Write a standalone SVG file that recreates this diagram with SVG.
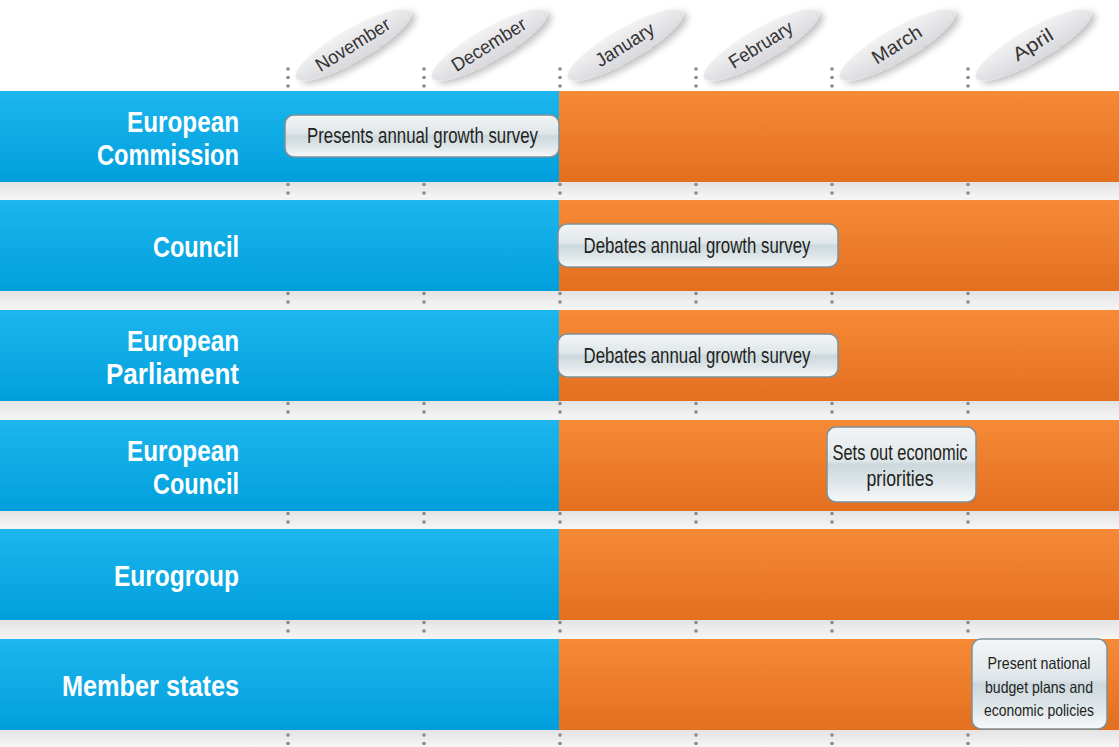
<svg xmlns="http://www.w3.org/2000/svg" width="1119" height="747" viewBox="0 0 1119 747">
<defs>
<linearGradient id="gBlue" x1="0" y1="0" x2="0" y2="1"><stop offset="0" stop-color="#1db6ee"/><stop offset="1" stop-color="#009fdc"/></linearGradient>
<linearGradient id="gOrange" x1="0" y1="0" x2="0" y2="1"><stop offset="0" stop-color="#f68a37"/><stop offset="1" stop-color="#e36f1f"/></linearGradient>
<linearGradient id="gGap" x1="0" y1="0" x2="0" y2="1"><stop offset="0" stop-color="#e3e3e3"/><stop offset="1" stop-color="#f6f6f6"/></linearGradient>
<linearGradient id="gBox" x1="0" y1="0" x2="0" y2="1"><stop offset="0" stop-color="#f3f5f6"/><stop offset="0.45" stop-color="#dfe6e9"/><stop offset="0.5" stop-color="#ccd8dd"/><stop offset="0.8" stop-color="#e3e9ec"/><stop offset="1" stop-color="#f7f9f9"/></linearGradient>
<linearGradient id="gPill" x1="0" y1="0" x2="0" y2="1"><stop offset="0" stop-color="#f2f2f4"/><stop offset="1" stop-color="#d9d9dd"/></linearGradient>
<filter id="shadow" x="-30%" y="-60%" width="160%" height="220%"><feGaussianBlur in="SourceAlpha" stdDeviation="3.5"/><feOffset dx="3" dy="5" result="b"/><feComponentTransfer><feFuncA type="linear" slope="0.25"/></feComponentTransfer><feMerge><feMergeNode/><feMergeNode in="SourceGraphic"/></feMerge></filter>
</defs>
<style>
.lbl{font-family:"Liberation Sans Narrow","Liberation Sans",Arial,sans-serif;font-weight:bold;font-size:30px;fill:#ffffff;text-anchor:end}
.btx{font-family:"Liberation Sans Narrow","Liberation Sans",Arial,sans-serif;font-size:21.5px;fill:#231f20;text-anchor:middle}
.btx2{font-family:"Liberation Sans Narrow","Liberation Sans",Arial,sans-serif;font-size:16.5px;fill:#231f20;text-anchor:middle}
.mon{font-family:"Liberation Sans Narrow","Liberation Sans",Arial,sans-serif;font-size:19px;fill:#333333;text-anchor:middle}
.box{fill:url(#gBox);stroke:#7d919a;stroke-width:1.5}
.pill{fill:url(#gPill)}
.dot{fill:#8a8a8a}
</style>
<rect x="0" y="0" width="1119" height="747" fill="#ffffff"/>
<rect x="0" y="91" width="1119" height="656" fill="url(#gGap)"/>
<g id="gaps">
<rect x="0" y="182" width="1119" height="18" fill="url(#gGap)"/>
<rect x="0" y="291" width="1119" height="19" fill="url(#gGap)"/>
<rect x="0" y="401" width="1119" height="19" fill="url(#gGap)"/>
<rect x="0" y="511" width="1119" height="18" fill="url(#gGap)"/>
<rect x="0" y="620" width="1119" height="19" fill="url(#gGap)"/>
<rect x="0" y="730" width="1119" height="17" fill="url(#gGap)"/>
</g>
<g id="connectors">
<g id="month-dividers">
<circle class="dot" cx="288" cy="69" r="1.8"/><circle class="dot" cx="288" cy="77.5" r="1.8"/><circle class="dot" cx="288" cy="86" r="1.8"/>
<circle class="dot" cx="424" cy="69" r="1.8"/><circle class="dot" cx="424" cy="77.5" r="1.8"/><circle class="dot" cx="424" cy="86" r="1.8"/>
<circle class="dot" cx="560" cy="69" r="1.8"/><circle class="dot" cx="560" cy="77.5" r="1.8"/><circle class="dot" cx="560" cy="86" r="1.8"/>
<circle class="dot" cx="696" cy="69" r="1.8"/><circle class="dot" cx="696" cy="77.5" r="1.8"/><circle class="dot" cx="696" cy="86" r="1.8"/>
<circle class="dot" cx="832" cy="69" r="1.8"/><circle class="dot" cx="832" cy="77.5" r="1.8"/><circle class="dot" cx="832" cy="86" r="1.8"/>
<circle class="dot" cx="968" cy="69" r="1.8"/><circle class="dot" cx="968" cy="77.5" r="1.8"/><circle class="dot" cx="968" cy="86" r="1.8"/>
</g>
<g id="gap-dots">
<circle class="dot" cx="288" cy="184.5" r="1.8"/><circle class="dot" cx="288" cy="193" r="1.8"/><circle class="dot" cx="424" cy="184.5" r="1.8"/><circle class="dot" cx="424" cy="193" r="1.8"/><circle class="dot" cx="560" cy="184.5" r="1.8"/><circle class="dot" cx="560" cy="193" r="1.8"/><circle class="dot" cx="696" cy="184.5" r="1.8"/><circle class="dot" cx="696" cy="193" r="1.8"/><circle class="dot" cx="832" cy="184.5" r="1.8"/><circle class="dot" cx="832" cy="193" r="1.8"/><circle class="dot" cx="968" cy="184.5" r="1.8"/><circle class="dot" cx="968" cy="193" r="1.8"/>
<circle class="dot" cx="288" cy="293.5" r="1.8"/><circle class="dot" cx="288" cy="302" r="1.8"/><circle class="dot" cx="424" cy="293.5" r="1.8"/><circle class="dot" cx="424" cy="302" r="1.8"/><circle class="dot" cx="560" cy="293.5" r="1.8"/><circle class="dot" cx="560" cy="302" r="1.8"/><circle class="dot" cx="696" cy="293.5" r="1.8"/><circle class="dot" cx="696" cy="302" r="1.8"/><circle class="dot" cx="832" cy="293.5" r="1.8"/><circle class="dot" cx="832" cy="302" r="1.8"/><circle class="dot" cx="968" cy="293.5" r="1.8"/><circle class="dot" cx="968" cy="302" r="1.8"/>
<circle class="dot" cx="288" cy="403.5" r="1.8"/><circle class="dot" cx="288" cy="412" r="1.8"/><circle class="dot" cx="424" cy="403.5" r="1.8"/><circle class="dot" cx="424" cy="412" r="1.8"/><circle class="dot" cx="560" cy="403.5" r="1.8"/><circle class="dot" cx="560" cy="412" r="1.8"/><circle class="dot" cx="696" cy="403.5" r="1.8"/><circle class="dot" cx="696" cy="412" r="1.8"/><circle class="dot" cx="832" cy="403.5" r="1.8"/><circle class="dot" cx="832" cy="412" r="1.8"/><circle class="dot" cx="968" cy="403.5" r="1.8"/><circle class="dot" cx="968" cy="412" r="1.8"/>
<circle class="dot" cx="288" cy="513.5" r="1.8"/><circle class="dot" cx="288" cy="522" r="1.8"/><circle class="dot" cx="424" cy="513.5" r="1.8"/><circle class="dot" cx="424" cy="522" r="1.8"/><circle class="dot" cx="560" cy="513.5" r="1.8"/><circle class="dot" cx="560" cy="522" r="1.8"/><circle class="dot" cx="696" cy="513.5" r="1.8"/><circle class="dot" cx="696" cy="522" r="1.8"/><circle class="dot" cx="832" cy="513.5" r="1.8"/><circle class="dot" cx="832" cy="522" r="1.8"/><circle class="dot" cx="968" cy="513.5" r="1.8"/><circle class="dot" cx="968" cy="522" r="1.8"/>
<circle class="dot" cx="288" cy="622.5" r="1.8"/><circle class="dot" cx="288" cy="631" r="1.8"/><circle class="dot" cx="424" cy="622.5" r="1.8"/><circle class="dot" cx="424" cy="631" r="1.8"/><circle class="dot" cx="560" cy="622.5" r="1.8"/><circle class="dot" cx="560" cy="631" r="1.8"/><circle class="dot" cx="696" cy="622.5" r="1.8"/><circle class="dot" cx="696" cy="631" r="1.8"/><circle class="dot" cx="832" cy="622.5" r="1.8"/><circle class="dot" cx="832" cy="631" r="1.8"/><circle class="dot" cx="968" cy="622.5" r="1.8"/><circle class="dot" cx="968" cy="631" r="1.8"/>
<circle class="dot" cx="288" cy="735" r="1.8"/><circle class="dot" cx="288" cy="743.5" r="1.8"/><circle class="dot" cx="424" cy="735" r="1.8"/><circle class="dot" cx="424" cy="743.5" r="1.8"/><circle class="dot" cx="560" cy="735" r="1.8"/><circle class="dot" cx="560" cy="743.5" r="1.8"/><circle class="dot" cx="696" cy="735" r="1.8"/><circle class="dot" cx="696" cy="743.5" r="1.8"/><circle class="dot" cx="832" cy="735" r="1.8"/><circle class="dot" cx="832" cy="743.5" r="1.8"/><circle class="dot" cx="968" cy="735" r="1.8"/><circle class="dot" cx="968" cy="743.5" r="1.8"/>
</g>
</g>
<g id="months">
<g id="m-nov" transform="translate(353,45) rotate(-30)"><ellipse class="pill" rx="66" ry="16" filter="url(#shadow)"/><text class="mon" x="0" y="6" transform="rotate(-2)" textLength="84" lengthAdjust="spacingAndGlyphs">November</text></g>
<g id="m-dec" transform="translate(489,45) rotate(-30)"><ellipse class="pill" rx="66" ry="16" filter="url(#shadow)"/><text class="mon" x="0" y="6" transform="rotate(-2)" textLength="84" lengthAdjust="spacingAndGlyphs">December</text></g>
<g id="m-jan" transform="translate(625,45) rotate(-30)"><ellipse class="pill" rx="66" ry="16" filter="url(#shadow)"/><text class="mon" x="0" y="6" transform="rotate(-2)" textLength="66" lengthAdjust="spacingAndGlyphs">January</text></g>
<g id="m-feb" transform="translate(761,45) rotate(-30)"><ellipse class="pill" rx="66" ry="16" filter="url(#shadow)"/><text class="mon" x="0" y="6" transform="rotate(-2)" textLength="72" lengthAdjust="spacingAndGlyphs">February</text></g>
<g id="m-mar" transform="translate(897,45) rotate(-30)"><ellipse class="pill" rx="66" ry="16" filter="url(#shadow)"/><text class="mon" x="0" y="6" transform="rotate(-2)" textLength="55" lengthAdjust="spacingAndGlyphs">March</text></g>
<g id="m-apr" transform="translate(1033,45) rotate(-30)"><ellipse class="pill" rx="66" ry="16" filter="url(#shadow)"/><text class="mon" x="0" y="6" transform="rotate(-2)" textLength="44" lengthAdjust="spacingAndGlyphs">April</text></g>
</g>
<g id="row-commission">
<rect x="0" y="91" width="560" height="91" fill="url(#gBlue)"/><rect x="559" y="91" width="560" height="91" fill="url(#gOrange)"/>
<text class="lbl" x="239" y="131.5" textLength="112" lengthAdjust="spacingAndGlyphs">European</text>
<text class="lbl" x="239" y="165" textLength="142" lengthAdjust="spacingAndGlyphs">Commission</text>
</g>
<g id="row-council">
<rect x="0" y="200" width="560" height="91" fill="url(#gBlue)"/><rect x="559" y="200" width="560" height="91" fill="url(#gOrange)"/>
<text class="lbl" x="239" y="257" textLength="86" lengthAdjust="spacingAndGlyphs">Council</text>
</g>
<g id="row-parliament">
<rect x="0" y="310" width="560" height="91" fill="url(#gBlue)"/><rect x="559" y="310" width="560" height="91" fill="url(#gOrange)"/>
<text class="lbl" x="239" y="350.5" textLength="112" lengthAdjust="spacingAndGlyphs">European</text>
<text class="lbl" x="239" y="384" textLength="133" lengthAdjust="spacingAndGlyphs">Parliament</text>
</g>
<g id="row-european-council">
<rect x="0" y="420" width="560" height="91" fill="url(#gBlue)"/><rect x="559" y="420" width="560" height="91" fill="url(#gOrange)"/>
<text class="lbl" x="239" y="460.5" textLength="112" lengthAdjust="spacingAndGlyphs">European</text>
<text class="lbl" x="239" y="494" textLength="86" lengthAdjust="spacingAndGlyphs">Council</text>
</g>
<g id="row-eurogroup">
<rect x="0" y="529" width="560" height="91" fill="url(#gBlue)"/><rect x="559" y="529" width="560" height="91" fill="url(#gOrange)"/>
<text class="lbl" x="239" y="586" textLength="125" lengthAdjust="spacingAndGlyphs">Eurogroup</text>
</g>
<g id="row-member-states">
<rect x="0" y="639" width="560" height="91" fill="url(#gBlue)"/><rect x="559" y="639" width="560" height="91" fill="url(#gOrange)"/>
<text class="lbl" x="239" y="696" textLength="177" lengthAdjust="spacingAndGlyphs">Member states</text>
</g>
<g id="box-presents">
<rect class="box" x="285" y="115" width="274" height="42" rx="9"/>
<text class="btx" x="422.5" y="143" textLength="231" lengthAdjust="spacingAndGlyphs">Presents annual growth survey</text>
</g>
<g id="box-council-debates">
<rect class="box" x="558" y="224" width="280" height="43" rx="9"/>
<text class="btx" x="697" y="252.5" textLength="227" lengthAdjust="spacingAndGlyphs">Debates annual growth survey</text>
</g>
<g id="box-parliament-debates">
<rect class="box" x="558" y="334" width="280" height="43" rx="9"/>
<text class="btx" x="697" y="362.5" textLength="227" lengthAdjust="spacingAndGlyphs">Debates annual growth survey</text>
</g>
<g id="box-priorities">
<rect class="box" x="827" y="427" width="149" height="75" rx="9"/>
<text class="btx" x="900" y="459.5" textLength="135" lengthAdjust="spacingAndGlyphs">Sets out economic</text>
<text class="btx" x="900" y="485.5" textLength="67" lengthAdjust="spacingAndGlyphs">priorities</text>
</g>
<g id="box-national">
<rect class="box" x="972" y="639" width="135" height="90" rx="9"/>
<text class="btx2" x="1039" y="669" textLength="103" lengthAdjust="spacingAndGlyphs">Present national</text>
<text class="btx2" x="1039" y="693" textLength="108" lengthAdjust="spacingAndGlyphs">budget plans and</text>
<text class="btx2" x="1039" y="716" textLength="110" lengthAdjust="spacingAndGlyphs">economic policies</text>
</g>
</svg>
